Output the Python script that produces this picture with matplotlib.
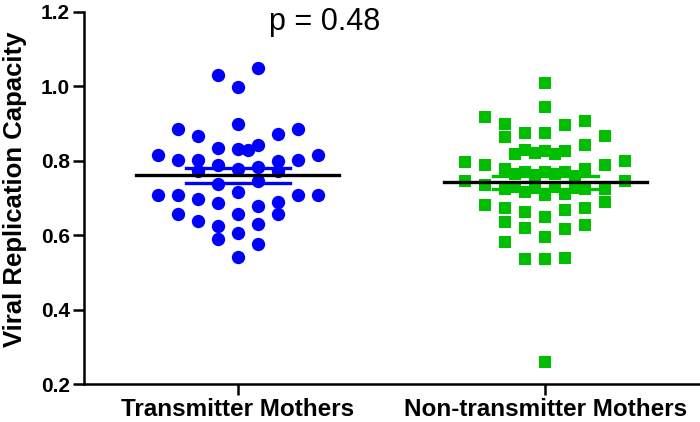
import numpy as np
import matplotlib
matplotlib.use('Agg')
import matplotlib.pyplot as plt

plt.rcParams['font.family'] = ['Liberation Sans', 'DejaVu Sans']

#group names
groups = ['Transmitter Mothers', 'Non-transmitter Mothers']

#transmitter mothers: values and swarm column they sit in
blue_vals = [0.815, 0.707,
             0.886, 0.801, 0.707, 0.656,
             0.868, 0.801, 0.772, 0.698, 0.638,
             1.03, 0.835, 0.788, 0.737, 0.687, 0.624, 0.591,
             0.999, 0.90, 0.833, 0.779, 0.716, 0.658, 0.605, 0.542,
             0.828,
             1.05, 0.842, 0.783, 0.745, 0.679, 0.629, 0.576,
             0.873, 0.799, 0.772, 0.688, 0.656,
             0.886, 0.801, 0.707,
             0.815, 0.707]
blue_cols = [-4]*2 + [-3]*4 + [-2]*5 + [-1]*7 + [0]*8 + [0.5]*1 + [1]*7 + [2]*5 + [3]*3 + [4]*2

#non-transmitter mothers
green_vals = [0.797, 0.745,
              0.918, 0.788, 0.734, 0.681,
              0.900, 0.864, 0.779, 0.725, 0.672, 0.636, 0.582,
              0.818, 0.765, 0.730,
              0.875, 0.828, 0.770, 0.716, 0.663, 0.620, 0.537,
              0.822, 0.762, 0.728,
              1.01, 0.944, 0.875, 0.826, 0.770, 0.707, 0.649, 0.595, 0.535, 0.260,
              0.818, 0.765, 0.730,
              0.897, 0.826, 0.770, 0.712, 0.667, 0.616, 0.539,
              0.760, 0.728,
              0.906, 0.842, 0.779, 0.725, 0.672, 0.627,
              0.868, 0.788, 0.725, 0.689,
              0.799, 0.745]
green_cols = ([-4]*2 + [-3]*4 + [-2]*7 + [-1.5]*3 + [-1]*7 + [-0.5]*3 + [0]*10
              + [0.5]*3 + [1]*7 + [1.5]*2 + [2]*6 + [3]*4 + [4]*2)

#mean and sem
means = [0.761, 0.742]
sems = [0.020, 0.018]
p_text = 'p = 0.48'

colors = ['#0000ff', '#00bf00']
markers = ['o', 's']
sizes = [9.6, 8.6]
step = 0.065

fig = plt.figure(figsize=(7, 4.22), dpi=100)
ax = fig.add_axes([0.12, 0.09, 0.879, 0.8816])

#points
for i, (vals, cols) in enumerate([(blue_vals, blue_cols), (green_vals, green_cols)]):
    x = i + np.array(cols) * step
    ax.plot(x, vals, linestyle='none', marker=markers[i], ms=sizes[i],
            color=colors[i], markeredgewidth=0, zorder=3)

#sem bars and mean lines
for i in range(2):
    for y in [means[i] - sems[i], means[i] + sems[i]]:
        ax.plot([i - 0.17, i + 0.17], [y, y], color=colors[i], lw=2.4, zorder=4)
    ax.plot([i - 0.33, i + 0.33], [means[i], means[i]], color='black', lw=2.4, zorder=5)

ax.text(0.283, 1.172, p_text, fontsize=22, ha='center', va='center')

ax.set_xlim(-0.5, 1.5)
ax.set_ylim(0.2, 1.2)
ax.set_yticks(np.arange(0.2, 1.21, 0.2))
ax.set_yticklabels(['%.1f' % v for v in np.arange(0.2, 1.21, 0.2)],
                   fontsize=15, fontweight='bold')
ax.set_xticks([0, 1])
ax.set_xticklabels(groups, fontsize=17.5, fontweight='bold')
ax.set_ylabel('Viral Replication Capacity', fontsize=18.5, fontweight='bold')
ax.yaxis.set_label_coords(-0.093, 0.524)

for s in ['top', 'right']:
    ax.spines[s].set_visible(False)
for s in ['left', 'bottom']:
    ax.spines[s].set_linewidth(1.8)
ax.tick_params(width=1.8, length=8, pad=2)

fig.savefig('out.png', dpi=100)
